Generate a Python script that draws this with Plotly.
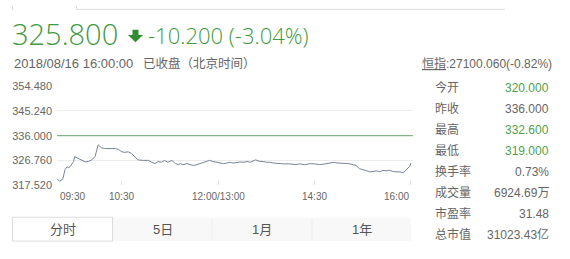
import plotly.graph_objects as go

# ---- data ----
minutes = [0, 2, 5, 7, 9, 10, 12, 15, 16, 19, 23, 26, 29, 32, 35, 38, 41, 44, 49, 54,
           57, 60, 63, 66, 69, 72, 75, 80, 85, 88, 91, 94, 97, 100, 103, 107, 110, 113,
           115, 117, 121, 124, 127, 130, 133, 136, 139, 142, 145, 149, 152, 155, 158,
           161, 164, 167, 170, 174, 177, 180, 183, 185, 189, 192, 195, 198, 202, 205,
           208, 211, 214, 217, 222, 226, 231, 236, 240, 245, 250, 254, 258, 262, 267,
           272, 276, 279, 282, 286, 289, 292, 295, 298, 301, 304, 307, 310, 314, 317,
           320, 323, 326, 329, 330]
prices = [319.8, 319.0, 319.9, 323.4, 324.4, 324.0, 324.6, 326.4, 328.2, 327.6, 326.8,
          326.2, 326.4, 327.0, 328.2, 332.6, 331.5, 331.2, 331.2, 331.2, 330.9, 330.0,
          329.8, 330.0, 329.4, 328.2, 327.0, 326.8, 326.8, 326.1, 325.6, 326.4, 326.1,
          326.8, 326.1, 326.8, 325.6, 325.2, 325.6, 325.2, 325.6, 325.2, 324.9, 325.2,
          325.6, 325.8, 326.4, 326.8, 326.4, 326.1, 325.8, 325.6, 325.8, 326.1, 325.8,
          326.1, 326.2, 326.1, 326.4, 326.1, 326.8, 327.0, 326.4, 326.4, 326.1, 326.1,
          325.8, 325.6, 325.6, 325.5, 325.5, 325.5, 325.2, 325.5, 325.2, 325.6, 325.5,
          325.2, 325.5, 325.8, 326.1, 325.8, 325.8, 325.6, 325.2, 324.9, 323.7, 323.4,
          322.9, 322.5, 322.6, 322.9, 322.6, 323.1, 322.9, 323.1, 322.6, 322.6, 322.5,
          322.2, 323.4, 324.6, 325.8]
prev_close = 336.000
y_ticks = [317.520, 326.760, 336.000, 345.240, 354.480]
x_tick_minutes = [60, 150, 240, 330]
x_label_minutes = [0, 60, 150, 240, 330]
x_labels = ["09:30", "10:30", "12:00/13:00", "14:30", "16:00"]
x_label_anchor = ["left", "center", "center", "center", "right"]

last_price = "325.800"
change_text = "-10.200 (-3.04%)"
date_text = "2018/08/16 16:00:00"
status_text = "已收盘（北京时间）"
index_name = "恒指"
index_text = ":27100.060(-0.82%)"
stat_labels = ["今开", "昨收", "最高", "最低", "换手率", "成交量", "市盈率", "总市值"]
stat_values = ["320.000", "336.000", "332.600", "319.000", "0.73%", "6924.69万", "31.48", "31023.43亿"]
stat_green = [True, False, True, True, False, False, False, False]
tabs = ["分时", "5日", "1月", "1年"]

W, H = 570, 259
FONT = "Arial, 'Liberation Sans', 'Noto Sans CJK SC', sans-serif"
BIG = "'Open Sans', Arial, sans-serif"
GREEN = "#3f9a3f"
LGREEN = "#4f9f4f"
GRAY = "#666666"


def px(x):
    return x / W


def py(y):
    return 1 - y / H


fig = go.Figure()
fig.add_trace(go.Scatter(x=minutes, y=prices, mode="lines",
                         line=dict(color="#76839a", width=1), hoverinfo="skip",
                         showlegend=False))

x0, x1 = 57, 413
yt, yb = 84, 188
fig.update_layout(
    width=W, height=H, margin=dict(l=0, r=0, t=0, b=0),
    paper_bgcolor="white", plot_bgcolor="white",
    font=dict(family=FONT, color=GRAY),
    xaxis=dict(domain=[px(x0), px(x1)], range=[-0.5, 332], showgrid=False,
               zeroline=False, tickvals=x_tick_minutes, showticklabels=False,
               ticks="inside", ticklen=4, tickcolor="#e3e3e3", showline=False,
               fixedrange=True),
    yaxis=dict(domain=[py(yb), py(yt)], range=[y_ticks[0], y_ticks[-1]],
               tickvals=y_ticks, tickformat=".3f", gridcolor="#ececec",
               gridwidth=1, zeroline=False, ticks="", showline=False,
               tickfont=dict(size=11, color=GRAY, family=FONT),
               ticklabelstandoff=4, fixedrange=True),
)

# previous close line
fig.add_shape(type="line", xref="paper", yref="y", x0=px(x0), x1=px(x1),
              y0=prev_close, y1=prev_close, line=dict(color="#6aa86a", width=1))

ann = []
# x labels
for m, t, a in zip(x_label_minutes, x_labels, x_label_anchor):
    ann.append(dict(x=m, xref="x", y=py(200), yref="paper", text=t, showarrow=False,
                    xanchor=a, yanchor="middle", font=dict(size=10, color=GRAY)))

# header
ann.append(dict(x=px(10), y=py(29), xref="paper", yref="paper", text=last_price,
                showarrow=False, xanchor="left", yanchor="middle",
                font=dict(size=29, color=GREEN, family=BIG, weight=300)))
ann.append(dict(x=px(146), y=py(30), xref="paper", yref="paper", text=change_text,
                showarrow=False, xanchor="left", yanchor="middle",
                font=dict(size=22, color=GREEN, family=BIG, weight=300)))
ann.append(dict(x=px(12), y=py(60), xref="paper", yref="paper", text=date_text,
                showarrow=False, xanchor="left", yanchor="middle",
                font=dict(size=13, color=GRAY)))
ann.append(dict(x=px(141), y=py(60), xref="paper", yref="paper", text=status_text,
                showarrow=False, xanchor="left", yanchor="middle",
                font=dict(size=12.5, color=GRAY)))

# right panel
ann.append(dict(x=px(420), y=py(60), xref="paper", yref="paper",
                text="<u>" + index_name + "</u>" + index_text, showarrow=False,
                xanchor="left", yanchor="middle", font=dict(size=12, color=GRAY)))
for i, (lab, val, g) in enumerate(zip(stat_labels, stat_values, stat_green)):
    yy = 85.7 + i * 22.05
    ann.append(dict(x=px(433), y=py(yy), xref="paper", yref="paper", text=lab,
                    showarrow=False, xanchor="left", yanchor="middle",
                    font=dict(size=12, color=GRAY)))
    ann.append(dict(x=px(551), y=py(yy), xref="paper", yref="paper", text=val,
                    showarrow=False, xanchor="right", yanchor="middle",
                    font=dict(size=12, color=LGREEN if g else GRAY)))

# tabs
tab_edges = [12, 113, 212, 312, 411]
for i, t in enumerate(tabs):
    cx = (tab_edges[i] + tab_edges[i + 1]) / 2
    ann.append(dict(x=px(cx), y=py(234), xref="paper", yref="paper", text=t,
                    showarrow=False, xanchor="center", yanchor="middle",
                    font=dict(size=13, color="#555555")))
fig.update_layout(annotations=ann)

shapes = list(fig.layout.shapes)
# arrow (down)
shapes.append(dict(type="path", xref="paper", yref="paper",
                   path=f"M {px(132.5)},{py(25)} L {px(138.5)},{py(25)} L {px(138.5)},{py(30.5)} "
                        f"L {px(143)},{py(30.5)} L {px(135.5)},{py(38)} L {px(128)},{py(30.5)} "
                        f"L {px(132.5)},{py(30.5)} Z",
                   fillcolor="#2f8f2f", line=dict(width=0)))
# tabs background
shapes.append(dict(type="rect", xref="paper", yref="paper", x0=px(113), x1=px(411),
                   y0=py(246.5), y1=py(222), fillcolor="#f8f8f8", line=dict(width=0),
                   layer="below"))
for e in tab_edges[2:4]:
    shapes.append(dict(type="line", xref="paper", yref="paper", x0=px(e), x1=px(e),
                       y0=py(245), y1=py(223), line=dict(color="#eeeeee", width=1)))
shapes.append(dict(type="rect", xref="paper", yref="paper", x0=px(12.5), x1=px(112.5),
                   y0=py(246.5), y1=py(221.5), fillcolor="white",
                   line=dict(color="#dddddd", width=1)))
# top tab border
shapes.append(dict(type="line", xref="paper", yref="paper", x0=px(12.5), x1=px(12.5),
                   y0=py(0), y1=py(4), line=dict(color="#dddddd", width=1)))
shapes.append(dict(type="line", xref="paper", yref="paper", x0=px(76.5), x1=px(76.5),
                   y0=py(0), y1=py(3.5), line=dict(color="#dddddd", width=1)))
shapes.append(dict(type="line", xref="paper", yref="paper", x0=px(76.5), x1=px(505),
                   y0=py(3.5), y1=py(3.5), line=dict(color="#dddddd", width=1)))
fig.update_layout(shapes=shapes)

fig.write_html("out.html", config={"displayModeBar": False})
